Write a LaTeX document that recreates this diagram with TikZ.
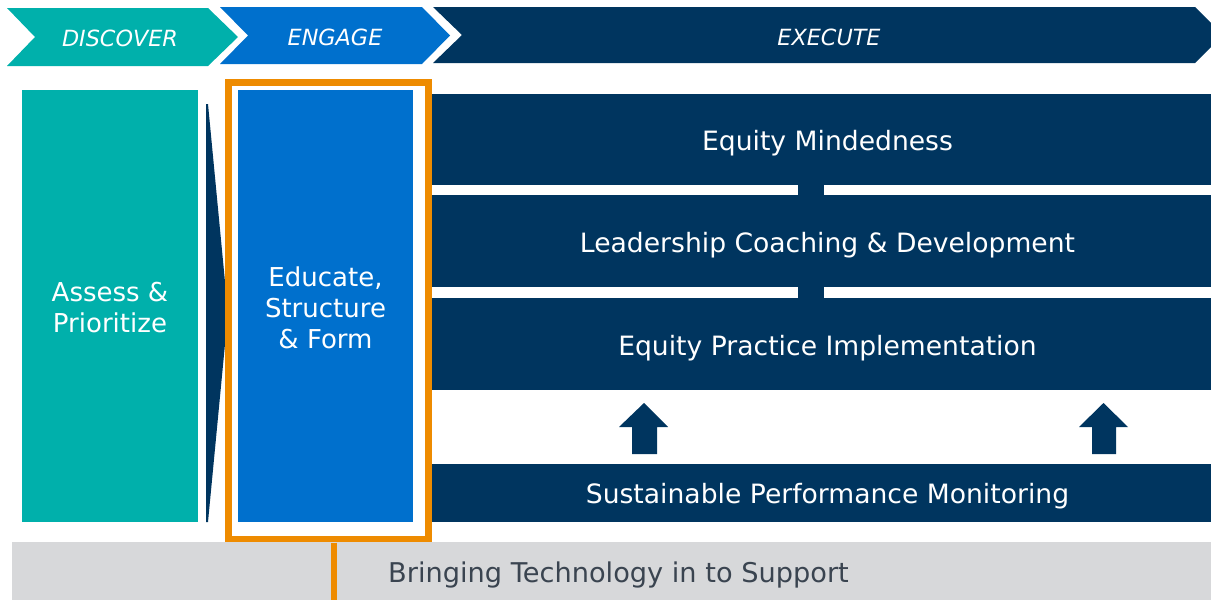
\documentclass[tikz,border=0pt]{standalone}
\usepackage{fontspec}
\setmainfont{DejaVu Sans}
\definecolor{cTeal}{HTML}{00B0AB}
\definecolor{cBlue}{HTML}{0070CD}
\definecolor{cNavy}{HTML}{00355F}
\definecolor{cOrange}{HTML}{EE8B00}
\definecolor{cGrey}{HTML}{D7D8DA}
\definecolor{cText}{HTML}{3A4450}
\tikzset{
  lbl/.style={text=white, inner sep=0pt, outer sep=0pt, align=center, font=\fontsize{26}{31}\selectfont},
  phase/.style={text=white, inner sep=0pt, font=\fontsize{22.3}{26}\selectfont\itshape},
  bar/.style={fill=cNavy, inner sep=0pt, outer sep=0pt},
  bartext/.style={text=white, inner sep=0pt, font=\fontsize{26.6}{31}\selectfont},
  uparrow/.style={fill=cNavy},
}
\begin{document}
\begin{tikzpicture}[x=1pt,y=-1pt]
\useasboundingbox (0,0) rectangle (1211,600);
\clip (0,0) rectangle (1211,600);
% phase chevrons
\fill[cTeal] (7,8) -- (208,8) -- (238,37) -- (208,66) -- (7,66) -- (35,37) -- cycle;
\fill[cBlue] (220,7) -- (422,7) -- (450,35.5) -- (422,64) -- (220,64) -- (248,35.5) -- cycle;
\fill[cNavy] (433,7) -- (1195,7) -- (1223,35) -- (1195,63) -- (433,63) -- (462,35) -- cycle;
\node[phase] (discover) at (120,38) {DISCOVER};
\node[phase] (engage) at (335,37) {ENGAGE};
\node[phase] (execute) at (829,37) {EXECUTE};
% left boxes
\fill[cTeal] (22,90) rectangle (198,522);
\node[lbl] (assess) at (110,308) {Assess \&\\Prioritize};
\fill[cNavy] (206,104) -- (208,104) -- (228,313) -- (208,522) -- (206,522) -- cycle;
\fill[cBlue] (238,90) rectangle (413,522);
\node[lbl] (educate) at (325.5,308) {Educate,\\Structure\\\& Form};
\draw[cOrange, line width=6.5pt] (228.5,82.5) rectangle (428.5,539.5);
% execute bars
\node[bar, minimum width=791pt, minimum height=91pt] (b1) at (827.5,139.5) {};
\node[bar, minimum width=791pt, minimum height=92pt] (b2) at (827.5,241) {};
\node[bar, minimum width=791pt, minimum height=92pt] (b3) at (827.5,344) {};
\node[bar, minimum width=791pt, minimum height=58pt] (b4) at (827.5,493) {};
\node[bartext] (t1) at ([yshift=-4pt]b1.center) {Equity Mindedness};
\node[bartext] (t2) at ([yshift=-4pt]b2.center) {Leadership Coaching \& Development};
\node[bartext] (t3) at ([yshift=-4pt]b3.center) {Equity Practice Implementation};
\node[bartext] (t4) at ([yshift=-3pt]b4.center) {Sustainable Performance Monitoring};
\fill[cNavy] (798,184) rectangle (824,196);
\fill[cNavy] (798,286) rectangle (824,299);
% up arrows
\fill[uparrow] (632,454) -- (657,454) -- (657,427) -- (668,427) -- (644,403) -- (619,427) -- (632,427) -- cycle;
\fill[uparrow] (1092,454) -- (1116,454) -- (1116,427) -- (1128,427) -- (1103.5,403) -- (1079,427) -- (1092,427) -- cycle;
% bottom bar
\fill[cGrey] (12,542) rectangle (1211,600);
\node[text=cText, inner sep=0pt, font=\fontsize{27.2}{31}\selectfont] (tech) at (618.5,575) {Bringing Technology in to Support};
\coordinate (obot) at (334,600);
\draw[cOrange, line width=6.5pt] (334,542.5) -- (obot);
\end{tikzpicture}
\end{document}
